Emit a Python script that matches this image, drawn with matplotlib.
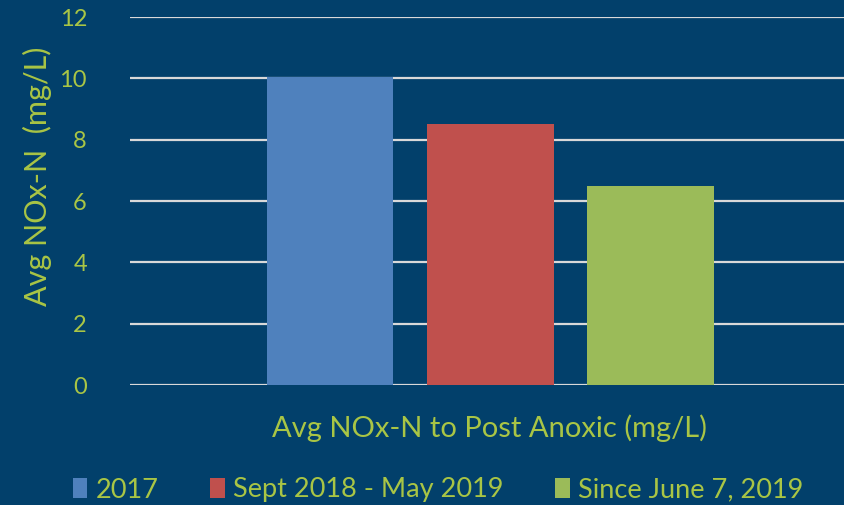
import matplotlib
matplotlib.use("Agg")
import matplotlib.pyplot as plt
from matplotlib.patches import Patch

series_names = ["2017", "Sept 2018 - May 2019", "Since June 7, 2019"]
values = [10.05, 8.5, 6.5]
colors = ["#4f81bd", "#c0504d", "#9bbb59"]
category = "Avg NOx-N to Post Anoxic (mg/L)"
yticks = [0, 2, 4, 6, 8, 10, 12]

bg = "#02406b"
txt = "#a9c545"

plt.rcParams["font.family"] = ["Lato", "DejaVu Sans"]

fig = plt.figure(figsize=(8.45, 5.05), dpi=100, facecolor=bg)
ax = fig.add_axes([130/845, 1-385/505, (845-130)/845, (385-17)/505])
ax.set_facecolor(bg)

xs = [0, 1, 2]
ax.bar(xs, values, width=0.79, color=colors, zorder=3)

ax.set_ylim(0, 12)
ax.set_xlim(-1.246, 3.21)
ax.set_yticks(yticks)
ax.set_yticklabels([str(t) for t in yticks], color=txt, fontsize=17)
ax.tick_params(axis="y", length=0, pad=31)
ax.set_xticks([])
ax.grid(axis="y", color="#d9d9d9", linewidth=1.6, zorder=1)
for s in ax.spines.values():
    s.set_visible(False)

ax.set_ylabel("Avg NOx-N  (mg/L)", color=txt, fontsize=22)
ax.yaxis.set_label_coords(-78/715, (385-176)/368)
fig.text(490/845, 1-428/505, category, color=txt, fontsize=21, ha="center", va="center")

handles = [Patch(facecolor=c) for c in colors]
fig.legend(handles, series_names, loc="center", bbox_to_anchor=(438/845, 1-490/505),
           ncol=3, frameon=False, fontsize=19.5, labelcolor=txt,
           handlelength=0.55, handleheight=0.75, handletextpad=0.3, columnspacing=1.9)

fig.savefig("out.png", dpi=100, facecolor=bg)
